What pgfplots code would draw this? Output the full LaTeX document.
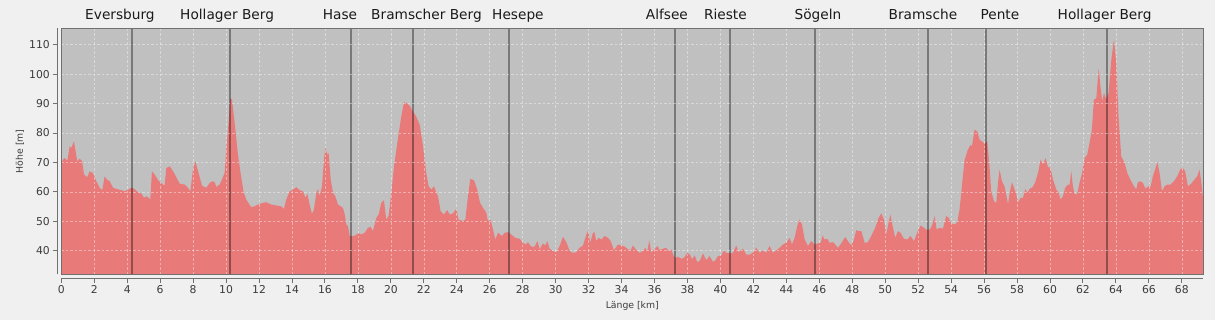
\documentclass[border=0pt]{standalone}
\usepackage{pgfplots}
\pgfplotsset{compat=1.18}
\usepackage{fontspec}
\setmainfont{DejaVu Sans}
\definecolor{figbg}{HTML}{F0F0F0}
\definecolor{plotbg}{HTML}{C0C0C0}
\definecolor{elev}{RGB}{232,122,122}
\definecolor{spine}{HTML}{707070}
\definecolor{ticklab}{HTML}{3C3C3C}
\definecolor{names}{HTML}{1A1A1A}

\pgfplotstableread{
km h
0.00 69.6
0.10 71.0
0.20 71.5
0.37 70.7
0.51 75.5
0.61 75.0
0.77 77.2
0.85 74.4
0.97 70.4
1.11 71.3
1.26 70.4
1.38 65.9
1.58 65.0
1.72 67.0
1.92 66.4
2.13 63.6
2.33 61.4
2.49 60.6
2.63 65.3
2.77 64.2
2.94 63.6
3.14 61.4
3.34 61.0
3.64 60.6
3.85 60.2
4.05 60.8
4.25 61.4
4.45 61.0
4.65 59.9
4.86 59.4
5.02 58.0
5.16 58.5
5.30 58.0
5.40 57.4
5.50 67.0
5.67 65.9
5.87 64.0
6.07 63.0
6.27 62.1
6.37 68.1
6.58 68.7
6.78 67.0
6.98 65.0
7.18 62.8
7.49 62.5
7.69 61.4
7.83 60.2
7.99 67.6
8.13 70.4
8.29 67.3
8.54 62.1
8.80 61.4
9.00 63.0
9.14 63.6
9.31 63.3
9.41 61.7
9.61 62.5
9.81 65.0
9.91 66.4
10.01 74.4
10.16 84.5
10.26 91.9
10.36 91.3
10.52 83.4
10.72 72.7
10.88 66.4
11.07 59.7
11.23 57.4
11.45 55.4
11.53 54.9
11.73 55.1
11.94 55.7
12.24 56.3
12.44 56.5
12.74 55.7
13.05 55.4
13.35 55.1
13.51 54.2
13.65 57.4
13.86 60.2
14.06 60.8
14.26 61.6
14.46 60.6
14.67 60.2
14.81 58.0
14.93 59.4
15.07 55.7
15.21 52.5
15.33 54.0
15.48 59.7
15.58 61.0
15.68 58.5
15.82 61.9
15.94 71.0
16.02 74.9
16.14 72.7
16.22 73.2
16.35 64.2
16.49 59.7
16.63 58.5
16.79 55.7
16.95 55.1
17.09 54.6
17.20 52.3
17.30 48.9
17.40 48.4
17.50 45.0
17.70 45.0
17.84 45.2
18.04 46.1
18.21 45.5
18.41 46.1
18.61 47.8
18.77 48.1
18.91 46.7
19.12 51.2
19.26 52.3
19.42 56.3
19.58 57.2
19.72 50.6
19.86 51.8
20.03 59.7
20.19 68.7
20.39 76.6
20.63 85.6
20.80 90.5
20.94 90.2
21.14 89.3
21.34 87.3
21.54 85.6
21.75 82.8
21.95 75.5
22.15 66.4
22.29 61.9
22.45 60.8
22.62 61.9
22.76 59.7
22.86 58.5
23.02 53.4
23.22 52.3
23.42 53.8
23.57 52.3
23.77 52.7
23.97 54.2
24.11 50.6
24.37 50.1
24.52 50.6
24.68 58.5
24.82 64.4
25.04 64.0
25.24 60.8
25.41 56.3
25.59 54.6
25.79 52.9
25.89 50.1
26.05 50.6
26.20 47.2
26.34 43.8
26.50 46.1
26.74 45.0
26.90 46.1
27.11 46.3
27.31 45.5
27.55 44.4
27.81 44.1
28.02 42.7
28.16 42.1
28.32 42.9
28.52 41.4
28.72 41.4
28.89 43.3
29.03 40.5
29.23 42.5
29.37 41.8
29.49 43.3
29.63 40.7
29.84 39.9
30.04 39.5
30.24 41.6
30.44 44.7
30.65 42.9
30.85 39.9
31.05 39.3
31.25 39.5
31.45 41.0
31.66 41.8
31.80 44.4
31.96 47.0
32.10 42.7
32.26 46.1
32.36 46.3
32.46 43.3
32.61 44.4
32.77 43.8
32.97 45.0
33.17 44.4
33.34 43.3
33.54 40.2
33.78 42.1
33.98 41.8
34.19 41.4
34.39 40.5
34.55 40.2
34.69 41.8
34.83 40.7
35.09 39.3
35.30 39.9
35.44 41.0
35.56 39.9
35.68 43.5
35.80 39.5
36.01 40.5
36.17 41.6
36.31 40.2
36.51 40.7
36.71 41.0
36.85 39.9
37.02 40.5
37.14 38.4
37.26 37.6
37.42 38.0
37.62 37.3
37.79 37.6
37.99 39.3
38.15 38.7
38.27 37.1
38.43 38.4
38.59 36.2
38.74 36.5
38.94 39.1
39.14 36.8
39.34 38.2
39.55 36.2
39.69 36.8
39.85 38.2
40.05 38.4
40.21 40.2
40.35 39.3
40.56 39.1
40.76 39.3
40.96 41.8
41.10 39.5
41.37 40.7
41.57 38.7
41.77 38.7
41.97 39.3
42.17 41.0
42.38 39.3
42.58 40.2
42.78 39.3
42.98 41.6
43.19 39.3
43.39 40.2
43.59 41.0
43.79 42.1
43.99 42.7
44.20 44.4
44.34 42.1
44.50 44.4
44.66 48.4
44.80 50.6
44.95 48.9
45.11 43.8
45.31 41.6
45.51 43.3
45.71 42.1
45.92 42.5
46.08 42.7
46.20 45.2
46.32 43.8
46.48 44.1
46.62 42.7
46.83 42.9
46.97 42.1
47.13 41.0
47.33 42.5
47.57 44.7
47.78 42.9
47.94 41.8
48.10 43.8
48.24 47.0
48.38 46.7
48.55 46.7
48.75 42.7
48.95 42.9
49.15 45.0
49.39 47.8
49.60 51.2
49.76 52.7
49.92 50.6
50.06 45.5
50.16 48.4
50.31 52.3
50.47 47.8
50.61 44.4
50.77 46.7
50.93 46.1
51.13 44.1
51.34 43.8
51.54 45.0
51.74 43.3
51.94 46.1
52.15 48.6
52.35 47.8
52.49 47.2
52.69 47.2
52.83 48.4
53.00 51.8
53.12 47.2
53.30 47.8
53.50 47.5
53.70 51.8
53.84 51.2
54.01 49.3
54.21 48.9
54.37 49.7
54.51 54.0
54.65 61.9
54.82 71.0
55.02 74.4
55.18 76.0
55.26 75.5
55.42 81.1
55.58 80.6
55.73 77.7
55.87 77.2
56.03 76.4
56.19 77.2
56.33 68.7
56.43 60.2
56.60 56.8
56.74 56.3
56.84 63.0
56.94 67.6
57.08 63.6
57.24 61.9
57.40 57.4
57.45 55.7
57.55 59.7
57.69 63.3
57.85 60.8
57.95 59.4
58.05 56.3
58.21 58.0
58.36 58.0
58.50 61.0
58.62 59.7
58.76 61.0
58.96 61.7
59.10 63.3
59.27 66.4
59.43 71.0
59.57 69.3
59.73 71.5
59.87 68.5
60.03 68.1
60.18 64.2
60.38 60.8
60.52 59.7
60.64 57.4
60.78 58.5
60.92 61.4
61.09 62.5
61.19 62.5
61.29 67.0
61.39 61.9
61.49 59.3
61.63 59.1
61.79 63.0
61.94 66.4
62.10 71.5
62.26 72.7
62.40 76.6
62.54 81.1
62.66 91.3
62.81 91.9
62.95 102.0
63.07 95.3
63.17 90.7
63.27 93.6
63.41 91.5
63.55 93.6
63.72 104.9
63.88 111.9
64.02 103.7
64.16 85.6
64.32 72.1
64.53 69.8
64.69 66.4
64.83 64.7
65.03 62.5
65.23 60.8
65.33 63.3
65.50 63.6
65.64 63.0
65.80 61.0
65.94 61.9
66.10 61.7
66.24 65.3
66.39 67.8
66.51 70.1
66.65 66.4
66.79 60.2
66.95 61.9
67.11 62.5
67.31 62.5
67.52 63.6
67.72 65.3
67.92 67.8
68.06 68.1
68.20 67.0
68.37 61.9
68.57 62.8
68.77 64.2
68.93 65.3
69.07 67.6
69.17 63.6
69.28 58.0
}\profile

\begin{document}
\begin{tikzpicture}
\fill[figbg] (-61.3bp,-45.7bp) rectangle (1153.7bp,274.3bp);
\begin{axis}[
  at={(0,0)}, anchor=south west,
  scale only axis, width=1142bp, height=246bp,
  xmin=0, xmax=69.3, ymin=32, ymax=115.6,
  axis background/.style={fill=plotbg},
  axis on top,
  clip mode=individual,
  xtick={0,2,...,68}, ytick={40,50,...,110},
  grid=major,
  major grid style={white, opacity=0.4, line width=0.6bp, dash pattern=on 2.5bp off 2bp},
  axis line style={spine, line width=1.1bp},
  tick pos=left,
  tick align=outside,
  major tick length=4.5bp,
  every tick/.style={spine, line width=1bp},
  x tick style={yshift=-4bp},
  y tick style={xshift=-4bp},
  ticklabel style={font=\fontsize{10.8bp}{12bp}\selectfont, text=ticklab},
  xticklabel style={yshift=-3bp},
  yticklabel style={xshift=-3.5bp},
  /pgf/number format/assume math mode=true,
]
\addplot[fill=elev, draw=none] table[x=km, y=h] {\profile} \closedcycle;
\foreach \v in {4.29,10.22,17.58,21.33,27.16,37.22,40.56,45.71,52.58,56.10,63.48}{
  \edef\tmp{\noexpand\addplot[black, opacity=0.37, line width=2bp, forget plot] coordinates {(\v,32) (\v,115.6)};}
  \tmp
}
\draw[spine, line width=1.1bp] ([xshift=-4bp]rel axis cs:0,0) -- ([xshift=-4bp]rel axis cs:0,1);
\draw[spine, line width=1.1bp] ([yshift=-4bp]rel axis cs:0,0) -- ([yshift=-4bp]rel axis cs:1,0);
\tikzset{pn/.style={anchor=base, yshift=9bp, text=names, font=\fontsize{13.7bp}{16bp}\selectfont}}
\node[pn] at (axis cs:3.56,115.6) {Eversburg};
\node[pn] at (axis cs:10.06,115.6) {Hollager Berg};
\node[pn] at (axis cs:16.91,115.6) {Hase};
\node[pn] at (axis cs:22.16,115.6) {Bramscher Berg};
\node[pn] at (axis cs:27.71,115.6) {Hesepe};
\node[pn] at (axis cs:36.75,115.6) {Alfsee};
\node[pn] at (axis cs:40.30,115.6) {Rieste};
\node[pn] at (axis cs:45.92,115.6) {Sögeln};
\node[pn] at (axis cs:52.29,115.6) {Bramsche};
\node[pn] at (axis cs:56.96,115.6) {Pente};
\node[pn] at (axis cs:63.31,115.6) {Hollager Berg};
\node[font=\fontsize{9.3bp}{11bp}\selectfont, text=ticklab] at ([yshift=-31.7bp]rel axis cs:0.5,0) {Länge [km]};
\node[font=\fontsize{9.3bp}{11bp}\selectfont, text=ticklab, rotate=90] at ([xshift=-41.3bp]rel axis cs:0,0.5) {Höhe [m]};
\end{axis}
\pgfresetboundingbox
\path (-61.3bp,-45.7bp) rectangle (1153.7bp,274.3bp);
\end{tikzpicture}
\end{document}
